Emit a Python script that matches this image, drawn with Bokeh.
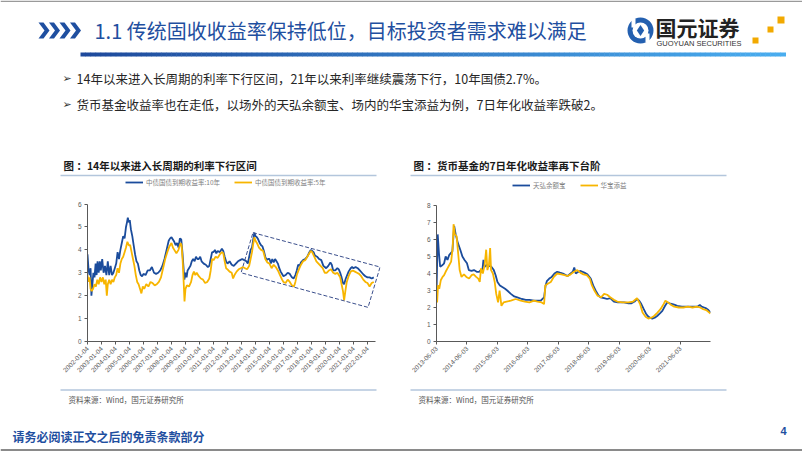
import numpy as np
from bokeh.plotting import figure
from bokeh.models import Range1d, FixedTicker, Legend, LegendItem, Spacer
from bokeh.layouts import column, row
from bokeh.core.properties import value
from bokeh.embed import file_html
from bokeh.resources import INLINE

# ---------------- data ----------------
# Left chart: China government bond yield to maturity (%), x = decimal year
bond10_x = [2002.00, 2002.08, 2002.15, 2002.22, 2002.28, 2002.35, 2002.42, 2002.50, 2002.58, 2002.65,
            2002.72, 2002.80, 2002.88, 2002.95, 2003.05, 2003.15, 2003.25, 2003.35, 2003.45, 2003.55,
            2003.65, 2003.75, 2003.85, 2003.95, 2004.05, 2004.15, 2004.25, 2004.35, 2004.45, 2004.55,
            2004.65, 2004.75, 2004.82, 2004.88, 2004.95, 2005.02, 2005.10, 2005.20, 2005.30, 2005.40,
            2005.50, 2005.60, 2005.70, 2005.80, 2005.90, 2006.00, 2006.15, 2006.30, 2006.45, 2006.60,
            2006.75, 2006.90, 2007.05, 2007.20, 2007.35, 2007.50, 2007.65, 2007.80, 2007.90, 2008.00,
            2008.10, 2008.20, 2008.30, 2008.40, 2008.50, 2008.60, 2008.70, 2008.78, 2008.85, 2008.92,
            2009.00, 2009.08, 2009.15, 2009.25, 2009.35, 2009.45, 2009.55, 2009.65, 2009.75, 2009.85,
            2009.95, 2010.05, 2010.15, 2010.30, 2010.45, 2010.60, 2010.70, 2010.80, 2010.90, 2011.00,
            2011.10, 2011.20, 2011.30, 2011.45, 2011.60, 2011.70, 2011.80, 2011.90, 2012.00, 2012.15,
            2012.30, 2012.45, 2012.60, 2012.75, 2012.90, 2013.05, 2013.20, 2013.35, 2013.45, 2013.55,
            2013.65, 2013.75, 2013.85, 2013.92, 2014.00, 2014.10, 2014.20, 2014.30, 2014.40, 2014.50,
            2014.60, 2014.70, 2014.80, 2014.90, 2015.00, 2015.10, 2015.20, 2015.30, 2015.40, 2015.50,
            2015.60, 2015.70, 2015.80, 2015.90, 2016.00, 2016.15, 2016.30, 2016.45, 2016.60, 2016.72,
            2016.85, 2016.95, 2017.05, 2017.15, 2017.25, 2017.40, 2017.55, 2017.70, 2017.85, 2017.95,
            2018.05, 2018.15, 2018.25, 2018.40, 2018.55, 2018.70, 2018.85, 2018.95, 2019.05, 2019.20,
            2019.35, 2019.45, 2019.55, 2019.70, 2019.85, 2019.95, 2020.05, 2020.15, 2020.25, 2020.33,
            2020.45, 2020.55, 2020.65, 2020.80, 2020.90, 2021.00, 2021.15, 2021.30, 2021.45, 2021.60,
            2021.75, 2021.85, 2022.00, 2022.15, 2022.30, 2022.45]
bond10_y = [3.8, 3.1, 2.9, 3.2, 2.0, 2.5, 3.0, 2.8, 3.4, 2.9,
            3.5, 3.0, 3.5, 3.1, 3.6, 3.0, 3.3, 2.9, 3.5, 2.9,
            3.3, 2.9, 3.0, 3.2, 3.4, 3.9, 3.6, 4.0, 4.3, 4.6,
            4.5, 5.0, 5.2, 5.4, 5.2, 5.3, 4.9, 4.6, 4.2, 3.8,
            3.5, 3.4, 3.1, 2.9, 2.85, 2.95, 2.9, 3.1, 3.1, 3.25,
            3.0, 2.95, 3.0, 3.1, 3.3, 3.6, 4.0, 4.4, 4.5, 4.55,
            4.45, 4.35, 4.2, 4.3, 4.1, 4.5, 4.45, 3.9, 3.3, 2.7,
            3.0, 2.8, 3.1, 3.2, 3.3, 3.5, 3.6, 3.5, 3.7, 3.6,
            3.6, 3.7, 3.5, 3.4, 3.35, 3.25, 3.3, 3.6, 3.9, 3.9,
            4.0, 3.85, 3.95, 3.9, 4.05, 3.95, 3.7, 3.5, 3.4, 3.5,
            3.35, 3.3, 3.4, 3.5, 3.55, 3.6, 3.55, 3.5, 3.4, 3.7,
            4.0, 4.1, 4.5, 4.75, 4.6, 4.55, 4.45, 4.3, 4.2, 4.15,
            3.95, 3.7, 3.55, 3.6, 3.6, 3.4, 3.6, 3.45, 3.6, 3.5,
            3.4, 3.2, 3.05, 2.95, 2.85, 2.9, 3.0, 2.95, 2.8, 2.75,
            2.9, 3.1, 3.35, 3.3, 3.45, 3.55, 3.6, 3.7, 3.9, 4.0,
            3.95, 3.9, 3.75, 3.7, 3.6, 3.55, 3.3, 3.25, 3.2, 3.3,
            3.45, 3.35, 3.1, 3.1, 3.2, 3.15, 3.0, 2.8, 2.55, 2.5,
            2.75, 2.9, 3.05, 3.2, 3.25, 3.2, 3.25, 3.2, 3.1, 3.0,
            2.9, 2.85, 2.8, 2.8, 2.75, 2.8]

bond5_x = [2002.00, 2002.08, 2002.15, 2002.22, 2002.30, 2002.40, 2002.50, 2002.60, 2002.70, 2002.80,
           2002.90, 2003.00, 2003.10, 2003.20, 2003.30, 2003.38, 2003.45, 2003.55, 2003.65, 2003.75,
           2003.85, 2003.95, 2004.05, 2004.15, 2004.25, 2004.35, 2004.45, 2004.55, 2004.65, 2004.75,
           2004.85, 2004.95, 2005.05, 2005.15, 2005.25, 2005.35, 2005.45, 2005.55, 2005.65, 2005.75,
           2005.85, 2005.95, 2006.05, 2006.20, 2006.35, 2006.50, 2006.65, 2006.80, 2006.95, 2007.10,
           2007.25, 2007.40, 2007.55, 2007.70, 2007.85, 2008.00, 2008.10, 2008.20, 2008.35, 2008.50,
           2008.65, 2008.72, 2008.80, 2008.87, 2008.93, 2009.00, 2009.10, 2009.25, 2009.40, 2009.50,
           2009.60, 2009.70, 2009.80, 2009.95, 2010.10, 2010.25, 2010.40, 2010.55, 2010.70, 2010.80,
           2010.90, 2011.00, 2011.15, 2011.30, 2011.45, 2011.60, 2011.70, 2011.80, 2011.90, 2012.00,
           2012.15, 2012.30, 2012.40, 2012.50, 2012.65, 2012.80, 2012.95, 2013.10, 2013.25, 2013.40,
           2013.55, 2013.65, 2013.75, 2013.85, 2013.92, 2014.00, 2014.10, 2014.25, 2014.40, 2014.55,
           2014.70, 2014.85, 2015.00, 2015.15, 2015.30, 2015.45, 2015.60, 2015.75, 2015.90, 2016.00,
           2016.15, 2016.30, 2016.45, 2016.60, 2016.75, 2016.85, 2016.95, 2017.10, 2017.25, 2017.40,
           2017.55, 2017.70, 2017.85, 2017.95, 2018.05, 2018.20, 2018.35, 2018.50, 2018.65, 2018.80,
           2018.95, 2019.10, 2019.25, 2019.40, 2019.55, 2019.70, 2019.85, 2019.95, 2020.05, 2020.15,
           2020.25, 2020.33, 2020.42, 2020.52, 2020.65, 2020.80, 2020.95, 2021.10, 2021.25, 2021.40,
           2021.55, 2021.70, 2021.85, 2022.00, 2022.15, 2022.30, 2022.45]
bond5_y = [2.9, 2.6, 2.8, 2.3, 2.2, 2.3, 2.5, 2.4, 2.7, 2.5,
           2.8, 2.6, 2.8, 2.5, 2.7, 2.0, 2.5, 2.7, 2.5, 2.7,
           2.6, 2.8, 2.9, 3.2, 3.0, 3.4, 3.6, 3.7, 3.9, 4.1,
           4.35, 4.2, 4.2, 3.9, 3.6, 3.3, 2.9, 2.6, 2.5, 2.3,
           2.1, 2.4, 2.3, 2.5, 2.4, 2.6, 2.55, 2.45, 2.5, 2.6,
           2.8, 3.2, 3.6, 3.9, 4.15, 4.3, 4.1, 4.0, 3.85, 4.0,
           4.3, 4.2, 3.5, 2.6, 1.75, 2.3, 2.45, 2.4, 2.6, 2.9,
           3.05, 2.9, 3.0, 2.85, 2.75, 2.7, 2.55, 2.6, 2.75, 3.1,
           3.6, 3.55, 3.7, 3.65, 3.8, 3.9, 3.85, 3.5, 3.2, 3.15,
           3.05, 3.0, 2.75, 2.9, 3.05, 3.15, 3.2, 3.25, 3.2, 3.15,
           3.3, 3.6, 3.9, 4.3, 4.55, 4.4, 4.3, 4.1, 4.0, 3.95,
           3.6, 3.45, 3.4, 3.2, 3.35, 3.25, 3.1, 2.9, 2.7, 2.6,
           2.55, 2.7, 2.6, 2.45, 2.4, 2.6, 2.9, 3.15, 3.35, 3.5,
           3.55, 3.7, 3.85, 3.95, 3.9, 3.7, 3.5, 3.4, 3.3, 3.2,
           3.0, 3.0, 3.1, 3.15, 3.0, 2.95, 3.0, 2.9, 2.8, 2.5,
           2.2, 1.8, 2.2, 2.6, 2.85, 3.05, 3.1, 3.05, 3.0, 2.95,
           2.85, 2.7, 2.6, 2.55, 2.4, 2.55, 2.6]

left_ticks = list(range(2002, 2023))
left_tick_labels = [f"{y}-01-04" for y in left_ticks]
left_series_names = ["中债国债到期收益率:10年", "中债国债到期收益率:5年"]

# dashed trend box corners (year, yield)
box_x = [2013.82, 2022.90, 2022.04, 2012.97]
box_y = [4.75, 3.25, 1.49, 3.00]

# Right chart: money fund 7-day annualized yield (%), x = years since 2013-06-03
yeb_x = [0.00, 0.04, 0.08, 0.12, 0.20, 0.25, 0.30, 0.36, 0.42, 0.47, 0.52, 0.58, 0.63, 0.70, 0.78,
         0.85, 0.92, 1.00, 1.06, 1.15, 1.23, 1.32, 1.40, 1.45, 1.50, 1.54, 1.58, 1.65, 1.72, 1.80,
         1.88, 1.94, 2.00, 2.08, 2.16, 2.25, 2.32, 2.44, 2.55, 2.65, 2.80, 2.93, 3.05, 3.20, 3.30,
         3.42, 3.53, 3.58, 3.62, 3.70, 3.78, 3.87, 3.96, 4.05, 4.15, 4.25, 4.30, 4.40, 4.47, 4.52,
         4.57, 4.65, 4.73, 4.85, 4.95, 5.06, 5.14, 5.22, 5.30, 5.38, 5.50, 5.60, 5.70, 5.82, 5.95,
         6.15, 6.30, 6.40, 6.50, 6.58, 6.65, 6.72, 6.80, 6.87, 6.93, 7.00, 7.08, 7.16, 7.24, 7.33,
         7.41, 7.50, 7.57, 7.65, 7.74, 7.82, 7.90, 8.05, 8.23, 8.40, 8.56, 8.64, 8.70, 8.78, 8.85,
         8.92, 8.99]
yeb_y = [2.8, 6.3, 5.2, 4.4, 4.5, 4.6, 5.0, 4.8, 5.1, 5.2, 5.3, 6.8, 6.3, 5.8, 5.4,
         5.0, 4.8, 4.6, 4.2, 4.15, 4.2, 4.1, 4.1, 4.2, 4.1, 4.8, 4.4, 4.5, 4.45, 4.4,
         4.2, 3.9, 3.5, 3.3, 3.2, 3.1, 3.0, 2.8, 2.65, 2.6, 2.5, 2.45, 2.45, 2.4, 2.4,
         2.4, 2.6, 3.3, 3.55, 3.7, 3.8, 4.0, 4.1, 4.05, 4.0, 3.9, 3.85, 4.0, 4.1, 4.35,
         4.0, 4.1, 4.15, 4.05, 3.95, 3.7, 3.3, 3.0, 2.75, 2.6, 2.55, 2.5, 2.55, 2.35, 2.3,
         2.3, 2.25, 2.25, 2.35, 2.5, 2.4, 2.2, 1.9, 1.65, 1.5, 1.4, 1.35, 1.4, 1.5, 1.65,
         1.8, 2.1, 2.3, 2.25, 2.2, 2.15, 2.1, 2.05, 2.05, 2.05, 2.05, 2.15, 2.05, 2.0, 1.95,
         1.85, 1.7]

hbty_x = [0.00, 0.02, 0.05, 0.09, 0.14, 0.20, 0.25, 0.30, 0.36, 0.42, 0.48, 0.53, 0.56, 0.60, 0.66,
          0.72, 0.76, 0.82, 0.90, 0.98, 1.07, 1.15, 1.22, 1.30, 1.37, 1.42, 1.46, 1.52, 1.58, 1.63,
          1.67, 1.72, 1.76, 1.79, 1.85, 1.91, 1.96, 2.02, 2.07, 2.13, 2.20, 2.30, 2.44, 2.60, 2.76,
          2.90, 3.05, 3.20, 3.31, 3.45, 3.53, 3.57, 3.65, 3.75, 3.85, 3.96, 4.10, 4.20, 4.30, 4.40,
          4.51, 4.62, 4.72, 4.82, 4.93, 5.03, 5.10, 5.18, 5.28, 5.40, 5.50, 5.60, 5.70, 5.82, 5.93,
          6.10, 6.30, 6.45, 6.58, 6.68, 6.76, 6.86, 6.95, 7.05, 7.14, 7.25, 7.35, 7.45, 7.51, 7.60,
          7.70, 7.80, 7.95, 8.10, 8.25, 8.40, 8.55, 8.65, 8.75, 8.85, 8.99]
hbty_y = [3.0, 2.3, 3.3, 3.1, 3.6, 3.8, 3.9, 4.1, 4.3, 4.5, 4.7, 5.5, 6.9, 6.3, 6.2,
          5.0, 4.2, 3.8, 3.95, 3.8, 3.7, 3.9, 3.95, 3.8, 3.7, 3.5, 4.3, 4.0, 4.5, 5.4,
          4.2, 4.5, 5.5, 4.2, 4.0, 3.5, 2.8, 2.3, 3.0, 2.1, 2.3, 2.35, 2.4, 2.5, 2.4,
          2.35, 2.3, 2.4, 2.35, 2.3, 2.2, 3.3, 3.4, 3.5, 3.8, 4.0, 3.95, 3.9, 3.85, 3.95,
          4.1, 4.2, 4.05, 3.95, 3.9, 3.7, 3.3, 3.0, 2.7, 2.6, 2.8, 2.75, 2.6, 2.45, 2.35,
          2.3, 2.3, 2.35, 2.55, 2.2, 1.7, 1.45, 1.35, 1.4, 1.5, 1.7, 1.9, 2.2, 2.4, 2.3,
          2.15, 2.05, 2.0, 2.0, 2.05, 2.0, 2.05, 2.0, 1.9, 1.85, 1.65]

right_ticks = list(range(0, 9))
right_tick_labels = [f"{2013 + k}-06-03" for k in right_ticks]
right_series_names = ["天弘余额宝", "华宝添益"]

# ---------------- styles ----------------
BLUE = "#1B4C9C"
GOLD = "#F7B500"
CJK = "Noto Sans CJK SC"
LAT = "Liberation Sans"
TITLE_BLUE = "#1F4FA0"

MID_H = 210  # height of the chart row (y 178 .. 388)


def blank(w, h, y0, y1):
    f = figure(width=w, height=h, x_range=Range1d(0, w), y_range=Range1d(y0, y1),
               x_axis_type=None, y_axis_type=None, min_border=0, outline_line_color=None,
               toolbar_location=None, output_backend="svg")
    f.grid.visible = False
    return f


def txt(f, x, y, s, size, color="#262626", font=CJK, style="normal", align="left"):
    f.text(x=[x], y=[y], text=[s], text_font=value(font), text_font_size=size,
           text_color=color, text_font_style=style, text_align=align, text_baseline="middle")


# ---------------- top band (header, bullets, chart titles) ----------------
top = blank(802, 178, 178, 0)
top.segment(x0=[0], y0=[0.75], x1=[802], y1=[0.75], line_color="#9a9a9a", line_width=1.5)
# chevrons
for i in range(4):
    x0 = 38 + i * 10.5
    top.patch(x=[x0, x0 + 5, x0 + 11, x0 + 5, x0, x0 + 6], y=[22, 22, 30, 38, 38, 30],
              fill_color=TITLE_BLUE, line_color=None)
txt(top, 94, 30, "1.1 传统固收收益率保持低位，目标投资者需求难以满足", "20px", TITLE_BLUE)
# gradient bar
n = 140
xs = np.linspace(80, 785, n + 1)
c0 = np.array([0x1F, 0x4A, 0x9C])
c1 = np.array([0x4A, 0xAE, 0xF0])
cols = ["#%02x%02x%02x" % tuple((c0 + (c1 - c0) * k / n).astype(int)) for k in range(n)]
top.quad(left=xs[:-1], right=xs[1:] + 0.5, top=[52] * n, bottom=[56] * n, fill_color=cols, line_color=None)
# logo
top.ellipse(x=[640], y=[30], width=[26], height=[26], fill_color="#2460B0", line_color=None)
top.ellipse(x=[640], y=[30], width=[16], height=[16], fill_color="white", line_color=None)
top.scatter(x=[640], y=[30], marker="diamond", size=11, fill_color="#2460B0", line_color=None)
top.quad(left=[631], right=[635], top=[18], bottom=[27], fill_color="white", line_color=None)
top.quad(left=[645], right=[649], top=[33], bottom=[42], fill_color="white", line_color=None)
txt(top, 655, 26, "国元证券", "21px", "#222222", style="bold")
txt(top, 656, 43, "GUOYUAN SECURITIES", "7.5px", "#333333", font=LAT)
top.quad(left=[777, 767, 752], right=[784, 773, 758], top=[16, 26, 37], bottom=[23, 32, 43],
         fill_color="#F2A900", line_color=None)
# bullets
txt(top, 62, 78, "➢", "11px", "#333333", font="DejaVu Sans")
txt(top, 76, 78, "14年以来进入长周期的利率下行区间，21年以来利率继续震荡下行，10年国债2.7%。", "12.5px")
txt(top, 62, 104, "➢", "11px", "#333333", font="DejaVu Sans")
txt(top, 76, 104, "货币基金收益率也在走低，以场外的天弘余额宝、场内的华宝添益为例，7日年化收益率跌破2。", "12.5px")
# chart titles
txt(top, 63, 165, "图 ：14年以来进入长周期的利率下行区间", "10.5px", "#1a1a1a", style="bold")
txt(top, 413, 165, "图 ：货币基金的7日年化收益率再下台阶", "10.5px", "#1a1a1a", style="bold")
top.segment(x0=[60, 410], y0=[175, 175], x1=[376, 726], y1=[175, 175], line_color="#B3C6DC", line_width=1.5)


def style_axes(p):
    for ax in (p.xaxis[0], p.yaxis[0]):
        ax.axis_line_color = "#595959"
        ax.major_tick_line_color = "#595959"
        ax.major_tick_out = 3
        ax.major_tick_in = 0
        ax.minor_tick_line_color = None
        ax.major_label_text_font = LAT
        ax.major_label_text_font_size = "6.5px"
        ax.major_label_text_color = "#595959"
        ax.major_label_standoff = 3
    p.xaxis[0].major_label_orientation = np.pi / 4
    p.grid.visible = False
    p.outline_line_color = None


def make_legend(p, items, loc):
    lg = Legend(items=items, orientation="horizontal", location=loc,
                label_text_font=CJK, label_text_font_size="6.5px", label_text_color="#7f7f7f",
                glyph_width=18, glyph_height=8, label_standoff=3, label_height=8, spacing=14,
                padding=0, margin=0, border_line_color=None, background_fill_alpha=0)
    p.add_layout(lg)


# ---------------- left chart ----------------
# frame spans y 178..344 (legend row sits inside the top of the frame); axis line limited to 0..6
left = figure(width=330, height=MID_H, x_range=Range1d(2002, 2022.93), y_range=Range1d(0, 6 * 166 / 140),
              min_border_left=27, min_border_right=10, min_border_top=0, min_border_bottom=44,
              toolbar_location=None, output_backend="svg")
r10 = left.line(bond10_x, bond10_y, line_color=BLUE, line_width=1.8)
r5 = left.line(bond5_x, bond5_y, line_color=GOLD, line_width=1.8)
left.patch(x=box_x, y=box_y, fill_color=None, line_color="#3B4F8C", line_width=1, line_dash="4 2")
style_axes(left)
left.xaxis[0].ticker = FixedTicker(ticks=left_ticks, minor_ticks=[])
left.xaxis[0].major_label_overrides = dict(zip(left_ticks, left_tick_labels))
left.xaxis[0].bounds = (2002, 2022.55)
left.yaxis[0].ticker = FixedTicker(ticks=[0, 1, 2, 3, 4, 5, 6], minor_ticks=[])
left.yaxis[0].bounds = (0, 6)
make_legend(left, [LegendItem(label=left_series_names[0], renderers=[r10]),
                   LegendItem(label=left_series_names[1], renderers=[r5])], (38, 154))

# ---------------- right chart ----------------
# frame spans y 178..341
right = figure(width=330, height=MID_H, x_range=Range1d(0, 8.99), y_range=Range1d(0, 8 * 163 / 136),
               min_border_left=26, min_border_right=30, min_border_top=0, min_border_bottom=47,
               toolbar_location=None, output_backend="svg")
ry = right.line(yeb_x, yeb_y, line_color=BLUE, line_width=1.8)
rh = right.line(hbty_x, hbty_y, line_color=GOLD, line_width=1.8)
style_axes(right)
right.xaxis[0].ticker = FixedTicker(ticks=right_ticks, minor_ticks=[])
right.xaxis[0].major_label_overrides = dict(zip(right_ticks, right_tick_labels))
right.yaxis[0].ticker = FixedTicker(ticks=list(range(0, 9)), minor_ticks=[])
right.yaxis[0].bounds = (0, 8)
make_legend(right, [LegendItem(label=right_series_names[0], renderers=[ry]),
                    LegendItem(label=right_series_names[1], renderers=[rh])], (76, 151))

# ---------------- bottom band ----------------
bot = blank(802, 451 - 178 - MID_H, 451, 178 + MID_H)
bot.segment(x0=[60, 410], y0=[389.5, 389.5], x1=[376, 726], y1=[389.5, 389.5], line_color="#B3C6DC", line_width=1.5)
txt(bot, 68, 399, "资料来源：Wind，国元证券研究所", "7.5px", "#555555")
txt(bot, 418, 399, "资料来源：Wind，国元证券研究所", "7.5px", "#555555")
txt(bot, 12, 436, "请务必阅读正文之后的免责条款部分", "12px", TITLE_BLUE, style="bold")
txt(bot, 780, 430, "4", "11px", TITLE_BLUE, font=LAT, style="bold")
bot.segment(x0=[0], y0=[449.5], x1=[802], y1=[449.5], line_color="#8a8a8a", line_width=2)

mid = row(Spacer(width=60, height=MID_H), left, Spacer(width=20, height=MID_H), right,
          Spacer(width=62, height=MID_H))
page = column(top, mid, bot)

open("out.html", "w").write(file_html(page, INLINE))
